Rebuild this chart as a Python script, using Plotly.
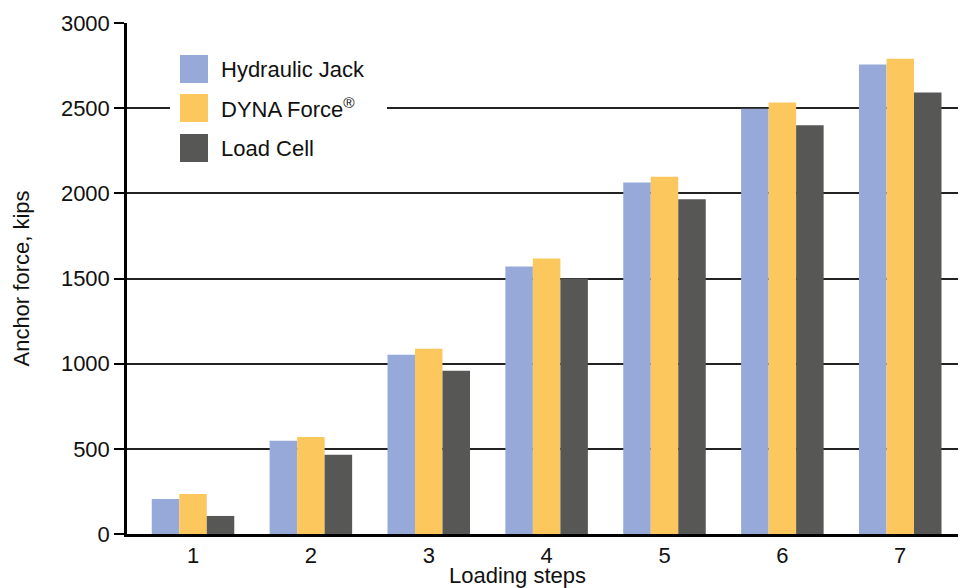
import plotly.graph_objects as go

steps = ["1", "2", "3", "4", "5", "6", "7"]
hydraulic_jack = [206, 547, 1053, 1570, 2063, 2497, 2756]
dyna_force = [235, 570, 1088, 1618, 2098, 2533, 2790]
load_cell = [106, 465, 959, 1500, 1965, 2400, 2592]

series_names = ["Hydraulic Jack", "DYNA Force<sup>®</sup>", "Load Cell"]
series_values = [hydraulic_jack, dyna_force, load_cell]
series_colors = ["#96A9D8", "#FCC85D", "#575756"]

y_ticks = [0, 500, 1000, 1500, 2000, 2500, 3000]

FONT = "Liberation Sans, Arial, Helvetica, sans-serif"

fig = go.Figure()
for name, vals, col in zip(series_names, series_values, series_colors):
    fig.add_trace(go.Bar(x=steps, y=vals, name=name, marker=dict(color=col, line=dict(width=0))))

W, H = 967, 588
L, R, T, B = 127, 958, 23, 534
pw, ph = R - L, B - T
def px(x):
    return (x - L) / pw
def py(y):
    return (B - y) / ph

shapes = [
    dict(type="rect", xref="paper", yref="paper", x0=px(170), x1=px(387), y0=py(175), y1=py(40),
         fillcolor="white", line=dict(width=0), layer="above"),
]
annotations = []
legend_centers = [69, 108, 148]
for name, col, cy in zip(series_names, series_colors, legend_centers):
    shapes.append(dict(type="rect", xref="paper", yref="paper", x0=px(180), x1=px(208),
                       y0=py(cy + 14), y1=py(cy - 14), fillcolor=col, line=dict(width=0), layer="above"))
    annotations.append(dict(xref="paper", yref="paper", x=px(219), y=py(cy), text=name, showarrow=False,
                            xanchor="left", yanchor="middle", font=dict(family=FONT, size=22, color="#111")))

annotations.append(dict(xref="paper", yref="paper", x=px(517), y=py(576), text="Loading steps", showarrow=False,
                        xanchor="center", yanchor="middle", font=dict(family=FONT, size=22, color="#111")))

fig.update_layout(
    width=W, height=H,
    margin=dict(l=L, r=W - R, t=T, b=H - B),
    paper_bgcolor="white", plot_bgcolor="white",
    barmode="group", bargap=0.3, bargroupgap=0,
    showlegend=False,
    font=dict(family=FONT, size=22, color="#111"),
    shapes=shapes, annotations=annotations,
    xaxis=dict(type="category", range=[-0.56, 6.49], showline=True, linecolor="black", linewidth=2.5,
               showgrid=False, ticks="", tickfont=dict(size=22)),
    yaxis=dict(range=[0, 3000], tickvals=y_ticks, showline=True, linecolor="black", linewidth=2.5,
               showgrid=True, gridcolor="#222", gridwidth=1.5, zeroline=False,
               ticks="outside", ticklen=10, tickcolor="black", tickwidth=1.5,
               tickfont=dict(size=22),
               title=dict(text="Anchor force, kips", font=dict(size=22), standoff=26)),
)

fig.write_html("out.html", config={"displayModeBar": False},
               post_script="document.body.style.margin='0';document.body.style.overflow='hidden';")
